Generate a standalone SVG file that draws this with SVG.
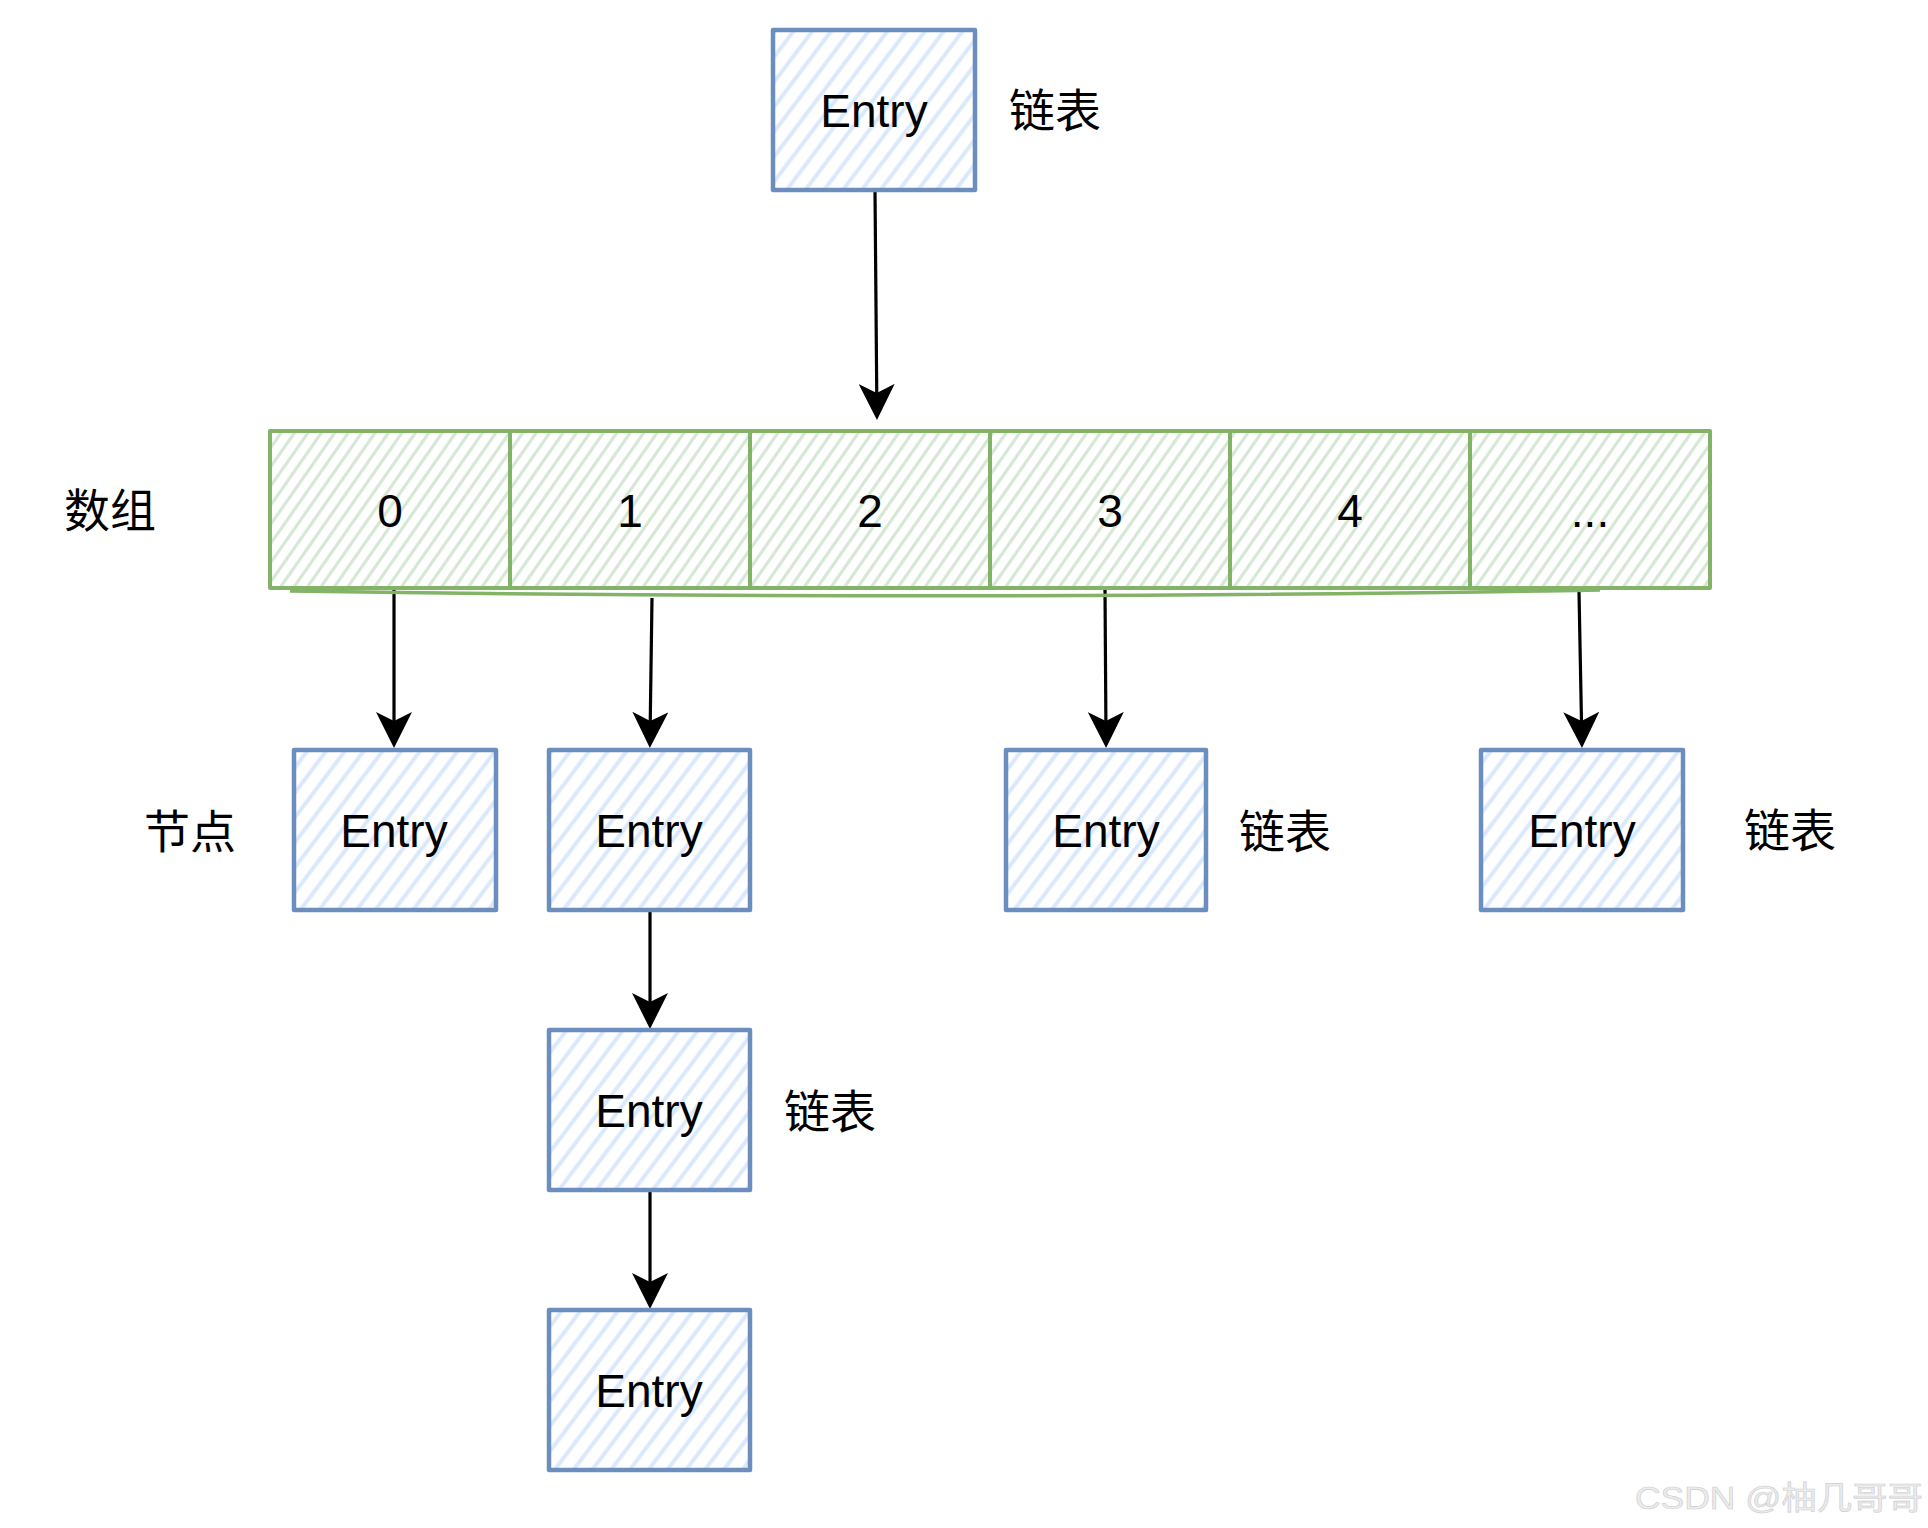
<svg xmlns="http://www.w3.org/2000/svg" width="1928" height="1528" viewBox="0 0 1928 1528">
  <style>
    .entry { fill: url(#hatchBlue); stroke: #6C8EBF; stroke-width: 4.5; stroke-linejoin: round; }
    .cell { fill: url(#hatchGreen); stroke: #82B366; stroke-width: 4; stroke-linejoin: round; }
    .div { fill: none; stroke: #82B366; stroke-width: 4; }
    .lbl { font-family: "Liberation Sans", Arial, "Noto Sans CJK SC", sans-serif; font-size: 46px; fill: #000; text-anchor: middle; }
    .cjk { font-family: "Noto Sans CJK SC", "Noto Sans CJK JP", sans-serif; font-size: 46px; fill: #000; text-anchor: middle; }
    .edge { fill: none; stroke: #000; stroke-width: 3.2; marker-end: url(#arrow); }
    .wm { font-family: "Liberation Sans", Arial, "Noto Sans CJK SC", sans-serif; font-size: 32px; fill: #ececec; stroke: #cdcdcd; stroke-width: 0.6; }
  </style>
  <defs>
    <pattern id="hatchBlue" patternUnits="userSpaceOnUse" width="15" height="20" patternTransform="rotate(37)">
      <line x1="7.5" y1="-2" x2="7.5" y2="22" stroke="#dae8fc" stroke-width="4"/>
    </pattern>
    <pattern id="hatchGreen" patternUnits="userSpaceOnUse" width="11" height="20" patternTransform="rotate(35)">
      <line x1="5.5" y1="-2" x2="5.5" y2="22" stroke="#d5e8d4" stroke-width="3.2"/>
    </pattern>
    <marker id="arrow" markerUnits="userSpaceOnUse" viewBox="0 0 36 36" markerWidth="36" markerHeight="36" refX="26" refY="18" orient="auto">
      <path d="M0,0 L36,18 L0,36 L9,18 Z" fill="#000"/>
    </marker>
  </defs>
  <rect width="1928" height="1528" fill="#ffffff"/>

  <g id="connectors">
    <path class="edge" d="M875,191 L876.9,410"/>
    <path class="edge" d="M394,590 L394,738"/>
    <path class="edge" d="M652,598 L650,738"/>
    <path class="edge" d="M1105,590 L1106,738"/>
    <path class="edge" d="M1579,592 L1581.8,738"/>
    <path class="edge" d="M650,910 L650,1019"/>
    <path class="edge" d="M650,1190 L650,1299"/>
  </g>

  <g id="entry-top">
    <rect class="entry" x="773" y="30" width="202" height="160"/>
    <text class="lbl" x="874" y="127">Entry</text>
  </g>
  <g id="label-top">
    <text class="cjk" x="1055" y="127">链表</text>
  </g>

  <g id="array">
    <rect class="cell" x="270" y="431" width="1440" height="157"/>
    <path class="div" d="M510,431 L510,590 M750,431 L750,590 M990,431 L990,590 M1230,431 L1230,590 M1470,431 L1470,590"/>
    <path d="M290,591 Q990,601 1600,590" fill="none" stroke="#82B366" stroke-width="3.5"/>
    <text class="lbl" x="390" y="527">0</text>
    <text class="lbl" x="630" y="527">1</text>
    <text class="lbl" x="870" y="527">2</text>
    <text class="lbl" x="1110" y="527">3</text>
    <text class="lbl" x="1350" y="527">4</text>
    <text class="lbl" x="1590" y="527">...</text>
  </g>
  <g id="label-array">
    <text class="cjk" x="110" y="527">数组</text>
  </g>

  <g id="entry-0">
    <rect class="entry" x="294" y="750" width="202" height="160"/>
    <text class="lbl" x="394" y="847">Entry</text>
  </g>
  <g id="label-node">
    <text class="cjk" x="190" y="848">节点</text>
  </g>

  <g id="entry-1">
    <rect class="entry" x="549" y="750" width="201" height="160"/>
    <text class="lbl" x="649" y="847">Entry</text>
  </g>

  <g id="entry-3">
    <rect class="entry" x="1006" y="750" width="200" height="160"/>
    <text class="lbl" x="1106" y="847">Entry</text>
  </g>
  <g id="label-3">
    <text class="cjk" x="1285" y="848">链表</text>
  </g>

  <g id="entry-5">
    <rect class="entry" x="1481" y="750" width="202" height="160"/>
    <text class="lbl" x="1582" y="847">Entry</text>
  </g>
  <g id="label-5">
    <text class="cjk" x="1790" y="847">链表</text>
  </g>

  <g id="entry-1b">
    <rect class="entry" x="549" y="1030" width="201" height="160"/>
    <text class="lbl" x="649" y="1127">Entry</text>
  </g>
  <g id="label-1b">
    <text class="cjk" x="830" y="1128">链表</text>
  </g>

  <g id="entry-1c">
    <rect class="entry" x="549" y="1310" width="201" height="160"/>
    <text class="lbl" x="649" y="1407">Entry</text>
  </g>

  <g id="watermark">
    <text class="wm" x="1635" y="1509" textLength="288" lengthAdjust="spacingAndGlyphs">CSDN @柚几哥哥</text>
  </g>
</svg>
